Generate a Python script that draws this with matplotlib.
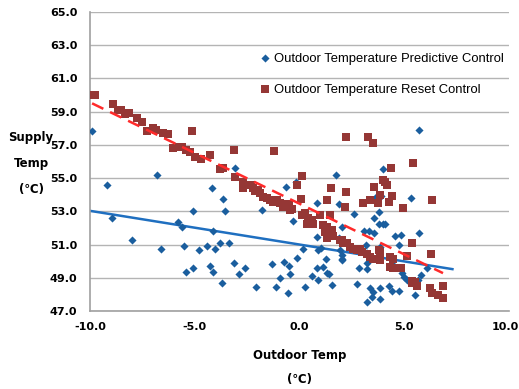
import matplotlib
matplotlib.use("Agg")
import matplotlib.pyplot as plt
import matplotlib.transforms as mtransforms
import numpy as np

# Outdoor Temperature Predictive Control (blue diamonds)
pred_x = [-9.92, -9.17, -8.96, -8.01, -6.82, -6.6, -5.79, -5.62, -5.5, -5.42,
          -5.1, -5.08, -4.8, -4.43, -4.29, -4.19, -4.14, -4.11, -4.02, -3.79,
          -3.7, -3.65, -3.57, -3.38, -3.14, -3.08, -2.87, -2.62, -2.08, -1.8,
          -1.31, -1.1, -0.95, -0.75, -0.66, -0.55, -0.49, -0.47, -0.33, -0.19,
          -0.1, 0.19, 0.26, 0.61, 0.82, 0.82, 0.87, 0.85, 0.87, 1.03,
          1.11, 1.26, 1.3, 1.42, 1.54, 1.74, 1.87, 2.01, 1.9, 1.93,
          2.04, 2.01, 2.6, 2.76, 2.86, 3.08, 3.17, 3.2, 3.2, 3.21,
          3.33, 3.37, 3.45, 3.5, 3.56, 3.57, 3.65, 3.79, 3.81, 3.84,
          3.84, 3.89, 3.97, 4.0, 4.1, 4.27, 4.43, 4.56, 4.74, 4.75,
          4.86, 4.89, 4.99, 5.12, 5.31, 5.38, 5.51, 5.64, 5.72, 5.8,
          6.07, 5.7, 3.2, 2.01, 3.84, 4.48]
pred_y = [57.83, 54.58, 52.57, 51.27, 55.18, 50.72, 52.33, 52.03, 50.92, 49.32,
          49.6, 53.0, 50.7, 50.92, 49.72, 54.42, 51.83, 49.32, 50.76, 51.12,
          48.7, 53.75, 53.0, 51.1, 49.86, 55.58, 49.2, 49.56, 48.45, 53.1,
          49.8, 48.42, 48.96, 49.94, 54.48, 48.1, 49.68, 49.22, 52.4, 54.74,
          50.22, 50.76, 48.45, 49.1, 53.5, 51.46, 50.7, 49.56, 48.86, 50.8,
          49.66, 50.12, 49.3, 49.22, 48.55, 55.18, 53.47, 52.07, 51.37, 50.7,
          50.4, 50.14, 52.83, 48.6, 49.6, 51.83, 50.97, 49.86, 49.5, 47.52,
          51.8, 48.36, 47.86, 48.16, 52.57, 51.71, 53.84, 52.93, 52.23, 48.4,
          47.7, 53.9, 55.54, 52.23, 52.23, 48.5, 48.21, 51.5, 51.0, 48.21,
          51.56, 49.26, 49.02, 48.86, 53.81, 48.8, 47.95, 48.86, 51.71, 49.16,
          49.56, 57.9, 50.5, 50.06, 50.86, 49.76]

# Outdoor Temperature Reset Control (red squares)
reset_x = [-9.9, -9.76, -8.9, -8.67, -8.52, -8.33, -8.16, -7.76, -7.54, -7.28,
           -7.0, -6.83, -6.51, -6.26, -5.15, -6.04, -5.85, -5.62, -5.44, -5.25,
           -5.0, -4.72, -4.27, -3.15, -1.23, 2.22, 3.25, 3.52, -3.81, -3.67,
           -3.08, -2.71, -2.68, -2.33, -2.2, -2.12, -2.0, -1.89, -1.73, -1.57,
           -1.41, -1.28, -1.09, -0.93, -0.77, -0.77, -0.49, -0.37, -0.45, -0.1,
           0.14, 0.07, 1.49, 1.3, 2.2, 2.19, 0.26, 0.42, 0.58, 0.34,
           0.66, 0.1, 0.18, 0.96, 1.46, 1.14, 1.3, 1.38, 1.22, 1.3,
           1.54, 1.62, 1.93, 2.01, 2.09, 2.25, 2.41, 2.57, 2.73, 2.89,
           2.97, 3.2, 3.37, 3.52, 3.69, 3.84, 3.81, 3.84, 4.32, 4.48,
           4.32, 4.48, 4.83, 5.12, 5.36, 5.36, 5.38, 5.51, 5.59, 6.23,
           6.31, 6.63, 6.84, 6.84, 6.28, 6.31, 4.95, 4.43, 4.27, 4.08,
           4.16, 4.0, 3.56, 3.76, 3.84, 4.37, 5.44, 3.02, 3.37]
reset_y = [60.0, 60.0, 59.46, 59.1, 59.1, 58.85, 58.9, 58.6, 58.35, 57.85,
           58.0, 57.87, 57.7, 57.65, 57.85, 56.8, 56.88, 56.85, 56.67, 56.57,
           56.3, 56.15, 56.4, 56.67, 56.63, 57.5, 57.5, 57.1, 55.52, 55.58,
           55.04, 54.74, 54.42, 54.56, 54.38, 54.24, 54.28, 54.08, 53.88, 53.78,
           53.67, 53.57, 53.67, 53.5, 53.27, 53.47, 53.47, 53.17, 53.07, 54.58,
           55.1, 53.73, 54.4, 53.67, 54.14, 53.24, 52.87, 52.57, 52.47, 52.23,
           52.23, 52.77, 52.77, 52.77, 52.77, 52.17, 52.03, 51.67, 51.77, 51.37,
           51.87, 51.5, 51.27, 51.27, 51.07, 51.1, 50.86, 50.76, 50.7, 50.76,
           50.56, 50.46, 50.26, 50.16, 50.16, 50.06, 50.66, 50.56, 50.26, 50.16,
           49.66, 49.56, 49.56, 50.34, 51.07, 48.67, 48.8, 48.76, 48.5, 48.37,
           48.07, 47.97, 48.5, 47.76, 50.46, 53.67, 53.2, 53.9, 53.57, 54.78,
           54.58, 54.88, 54.44, 53.5, 53.97, 55.58, 55.88, 53.5, 53.7]

# linear trendlines (start / end points)
pred_trend_x = [-10.0, 7.3]
pred_trend_y = [53.03, 49.52]
reset_trend_x = [-9.9, 6.85]
reset_trend_y = [59.5, 49.28]

blue = "#1a5e9e"
red = "#953735"

fig = plt.figure(figsize=(5.19, 3.89), dpi=100)
ax = fig.add_axes([90 / 519, 1 - 311 / 389, 419 / 519, 299 / 389])

ax.plot(pred_trend_x, pred_trend_y, color="#1f6fc0", lw=1.8, zorder=2)
ax.plot(reset_trend_x, reset_trend_y, color="#ff2a2a", lw=1.8,
        dashes=(5, 3), zorder=4)
ax.scatter(pred_x, pred_y, marker="D", s=17, color=blue, lw=0, zorder=3,
           label="Outdoor Temperature Predictive Control")
ax.scatter(reset_x, reset_y, marker="s", s=26, color=red, lw=0, zorder=3,
           label="Outdoor Temperature Reset Control")

ax.set_xlim(-10, 10)
ax.set_ylim(47, 65)
ax.set_xticks(np.arange(-10, 10.1, 5))
ax.set_yticks(np.arange(47, 65.1, 2))
ax.xaxis.set_major_formatter(matplotlib.ticker.FormatStrFormatter("%.1f"))
ax.yaxis.set_major_formatter(matplotlib.ticker.FormatStrFormatter("%.1f"))
ax.tick_params(axis="y", length=0, labelsize=8, pad=9)
ax.tick_params(axis="x", length=0, labelsize=8, pad=8)
for lab in ax.get_xticklabels() + ax.get_yticklabels():
    lab.set_fontweight("bold")
# keep the last x label inside the canvas
last = ax.get_xticklabels()[-1]
last.set_transform(last.get_transform() +
                   mtransforms.ScaledTranslation(-0.04, 0, fig.dpi_scale_trans))

ax.grid(axis="y", color="#b4b4b4", lw=1)
ax.set_axisbelow(True)
for s in ["top", "right"]:
    ax.spines[s].set_visible(False)
for s in ["left", "bottom"]:
    ax.spines[s].set_color("#a0a0a0")
    ax.spines[s].set_linewidth(1.2)

leg = ax.legend(loc="upper left", bbox_to_anchor=(0.405, 0.865), frameon=False,
                prop={"family": "Liberation Sans", "size": 9.4},
                labelspacing=1.45, handlelength=0.8, handletextpad=0.3,
                borderaxespad=0, borderpad=0, scatterpoints=1)

fig.text(31 / 519, 1 - 138 / 389, "Supply", ha="center", va="center",
         fontsize=8.5, fontweight="bold")
fig.text(31 / 519, 1 - 163 / 389, "Temp", ha="center", va="center",
         fontsize=8.5, fontweight="bold")
fig.text(31 / 519, 1 - 189 / 389, "(\u2103)", ha="center", va="center",
         fontsize=8.5, fontweight="bold")
fig.text(300 / 519, 1 - 355 / 389, "Outdoor Temp", ha="center", va="center",
         fontsize=8.5, fontweight="bold")
fig.text(300 / 519, 1 - 380 / 389, "(\u2103)", ha="center", va="center",
         fontsize=8.5, fontweight="bold")

fig.savefig("out.png", dpi=100)
